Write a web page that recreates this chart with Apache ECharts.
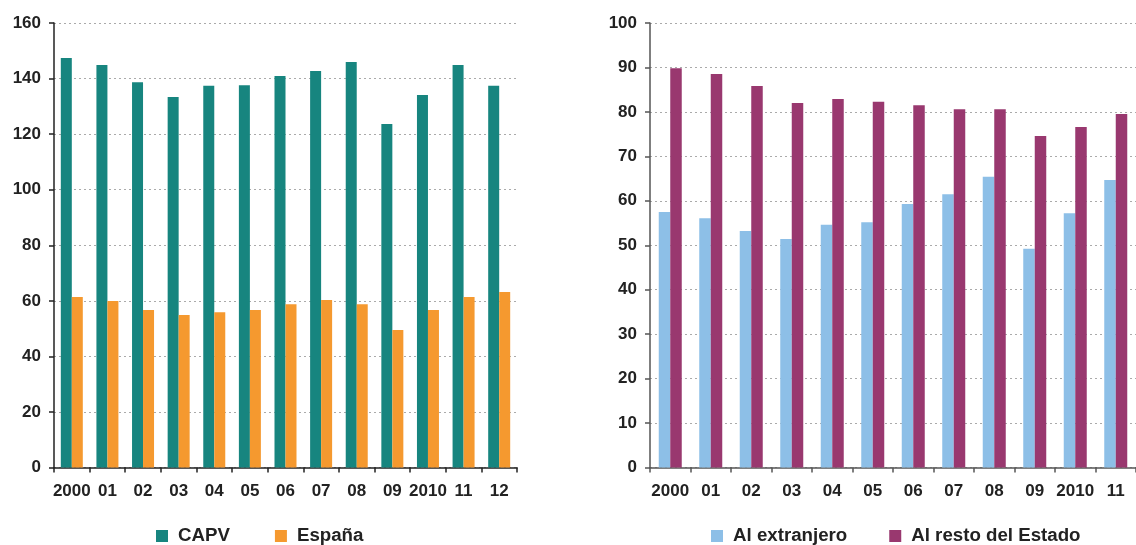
<!DOCTYPE html>
<html><head><meta charset="utf-8">
<script src="https://cdn.jsdelivr.net/npm/echarts@6/dist/echarts.min.js"></script>
<style>html,body{margin:0;padding:0;background:#fff}#c{width:1136px;height:545px}</style>
</head><body><div id="c"></div>
<script>
const categoriesLeft = ['2000','01','02','03','04','05','06','07','08','09','2010','11','12'];
const capv = [147.4,144.9,138.7,133.4,137.4,137.6,140.9,142.7,146.0,123.6,134.1,144.9,137.4];
const espana = [61.4,59.9,56.7,54.9,55.9,56.7,58.8,60.3,58.8,49.5,56.7,61.4,63.2];
const categoriesRight = ['2000','01','02','03','04','05','06','07','08','09','2010','11'];
const extranjero = [57.5,56.1,53.2,51.4,54.6,55.2,59.3,61.5,65.4,49.2,57.2,64.7];
const restoEstado = [89.8,88.5,85.8,82.0,82.9,82.3,81.5,80.6,80.6,74.6,76.6,79.5];

const FONT = 'Liberation Sans';
const txt = {fontFamily: FONT, fontWeight: 'bold', fontSize: 17, color: '#222'};
const legTxt = {fontFamily: FONT, fontWeight: 'bold', fontSize: 18.7, color: '#222', lineHeight: 20, padding:[0,0,0,5]};
function xAx(idx, cats, lineColor){
  return {type:'category', gridIndex: idx, data: cats, boundaryGap: true,
    axisLine:{show:true, lineStyle:{color: lineColor, width:1.5}},
    axisTick:{show:true, alignWithLabel:false, length:5, lineStyle:{color: lineColor, width:1.5}},
    axisLabel:Object.assign({margin:15, interval:0}, txt),
    splitLine:{show:false}};
}
function yAx(idx, max, interval, lineColor){
  return {type:'value', gridIndex: idx, min:0, max: max, interval: interval,
    axisLine:{show:true, lineStyle:{color: lineColor, width:1.5}},
    axisTick:{show:true, length:5, lineStyle:{color: lineColor, width:1.5}},
    axisLabel:Object.assign({margin:13}, txt),
    splitLine:{show:true, lineStyle:{color:'#aaa', type:[2,3], width:1}}};
}
const chart = echarts.init(document.getElementById('c'), null, {renderer:'canvas'});
chart.setOption({
  animation:false,
  backgroundColor:'#fff',
  grid:[
    {left:54, right:619, top:23, bottom:77.5, containLabel:false},
    {left:650, right:-8.5, top:23, bottom:77.5, containLabel:false}
  ],
  xAxis:[xAx(0, categoriesLeft, '#222'), xAx(1, categoriesRight, '#555')],
  yAxis:[yAx(0, 160, 20, '#222'), yAx(1, 100, 10, '#555')],
  legend:[
    {data:['CAPV','España'], left:156, top:526, padding:0, itemWidth:12, itemHeight:12, itemGap:45, icon:'rect',
     textStyle:legTxt},
    {data:['Al extranjero','Al resto del Estado'], left:711, top:526, padding:0, itemWidth:12, itemHeight:12, itemGap:42, icon:'rect',
     textStyle:legTxt}
  ],
  series:[
    {name:'CAPV', type:'bar', xAxisIndex:0, yAxisIndex:0, data:capv, barWidth:11, barGap:'0%', itemStyle:{color:'#17857f'}},
    {name:'España', type:'bar', xAxisIndex:0, yAxisIndex:0, data:espana, barWidth:11, barGap:'0%', itemStyle:{color:'#f5992f'}},
    {name:'Al extranjero', type:'bar', xAxisIndex:1, yAxisIndex:1, data:extranjero, barWidth:11.5, barGap:'0%', itemStyle:{color:'#8dbfe7'}},
    {name:'Al resto del Estado', type:'bar', xAxisIndex:1, yAxisIndex:1, data:restoEstado, barWidth:11.5, barGap:'0%', itemStyle:{color:'#99386f'}}
  ]
});
</script></body></html>
